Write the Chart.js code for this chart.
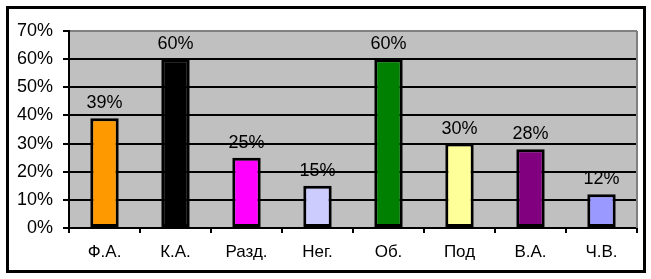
<!DOCTYPE html>
<html>
<head>
<meta charset="utf-8">
<script src="https://cdn.jsdelivr.net/npm/chart.js@4"></script>
<style>
  html, body { margin: 0; padding: 0; background: #fff; }
  #wrap { width: 651px; height: 279px; }
</style>
</head>
<body>
<div id="wrap"><canvas id="c" width="651" height="279"></canvas></div>
<script>
// Categories and values (percent)
const categories = ['Ф.А.', 'К.А.', 'Разд.', 'Нег.', 'Об.', 'Под', 'В.А.', 'Ч.В.'];
const values = [39, 60, 25, 15, 60, 30, 28, 12];
const barColors = ['#FF9900', '#000000', '#FF00FF', '#CCCCFF', '#008000', '#FFFF99', '#800080', '#9999FF'];
const yMax = 70;
const yStep = 10;

const FONT = 'Liberation Sans, Arial, sans-serif';
const FONT_SIZE = 18;

// Frame, plot background and value labels
const framePlugin = {
  id: 'frame',
  beforeDraw(chart) {
    const { ctx, chartArea: a } = chart;
    ctx.save();
    ctx.fillStyle = '#ffffff';
    ctx.fillRect(0, 0, chart.width, chart.height);
    ctx.fillStyle = '#C0C0C0';
    ctx.fillRect(a.left, a.top, a.right - a.left, a.bottom - a.top);
    ctx.restore();
  },
  afterDraw(chart) {
    const { ctx, chartArea: a } = chart;
    ctx.save();
    // plot area right edge
    ctx.strokeStyle = '#808080';
    ctx.lineWidth = 2;
    ctx.beginPath();
    ctx.moveTo(a.right, a.top);
    ctx.lineTo(a.right, a.bottom);
    ctx.stroke();
    // outer frame
    ctx.strokeStyle = '#000000';
    ctx.lineWidth = 3;
    ctx.strokeRect(7.5, 7.5, 637, 264);
    ctx.restore();
  },
  afterDatasetsDraw(chart) {
    const { ctx } = chart;
    const meta = chart.getDatasetMeta(0);
    ctx.save();
    ctx.fillStyle = '#000';
    ctx.font = FONT_SIZE + 'px ' + FONT;
    ctx.textAlign = 'center';
    ctx.textBaseline = 'alphabetic';
    meta.data.forEach((bar, i) => {
      ctx.fillText(values[i] + '%', bar.x, bar.y - 10);
    });
    ctx.restore();
  }
};

new Chart(document.getElementById('c'), {
  type: 'bar',
  data: {
    labels: categories,
    datasets: [{
      data: values,
      backgroundColor: barColors,
      borderColor: '#000000',
      borderWidth: 3,
      borderSkipped: false,
      barPercentage: 0.4,
      categoryPercentage: 1.0
    }]
  },
  options: {
    responsive: false,
    animation: false,
    devicePixelRatio: 1,
    layout: { padding: { left: 0, right: 14, top: 31, bottom: 0 } },
    plugins: {
      legend: { display: false },
      tooltip: { enabled: false }
    },
    scales: {
      y: {
        min: 0,
        max: yMax,
        afterFit(scale) { scale.width = 69; },
        ticks: {
          stepSize: yStep,
          color: '#000',
          font: { family: FONT, size: FONT_SIZE },
          padding: 10,
          callback: v => v + '%'
        },
        grid: {
          color: ctx => (ctx.tick && ctx.tick.value === yMax) ? '#808080' : '#000000',
          lineWidth: 2,
          drawTicks: true,
          tickLength: 6,
          tickColor: '#000000'
        },
        border: { display: true, color: '#000000', width: 2 }
      },
      x: {
        afterFit(scale) { scale.height = 51; },
        ticks: {
          color: '#000',
          font: { family: FONT, size: 17 },
          padding: 9
        },
        grid: {
          offset: true,
          drawOnChartArea: false,
          drawTicks: true,
          tickLength: 5,
          color: '#000000',
          lineWidth: 2
        },
        border: { display: true, color: '#000000', width: 2 }
      }
    }
  },
  plugins: [framePlugin]
});
</script>
</body>
</html>
